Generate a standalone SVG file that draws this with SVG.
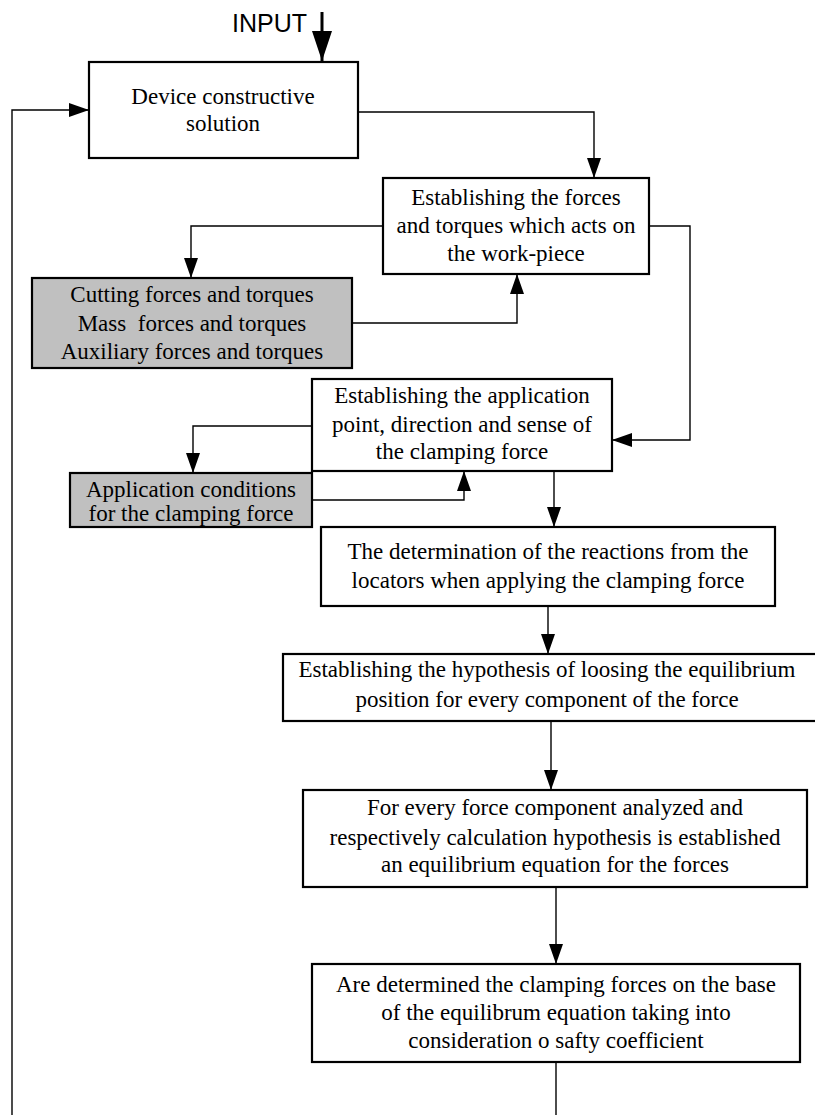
<svg xmlns="http://www.w3.org/2000/svg" width="815" height="1115" viewBox="0 0 815 1115">
<defs>
<marker id="ah" markerUnits="userSpaceOnUse" markerWidth="20" markerHeight="14" refX="20" refY="7" orient="auto"><path d="M0,0 L20,7 L0,14 z" fill="#000"/></marker>
<marker id="big" markerUnits="userSpaceOnUse" markerWidth="30" markerHeight="20" refX="30" refY="10" orient="auto"><path d="M0,0 L30,10 L0,20 z" fill="#000"/></marker>
<style>
.box{fill:#fff;stroke:#000;stroke-width:2.2}
.grey{fill:#c0c0c0;stroke:#000;stroke-width:2.2}
.t{font-family:"Liberation Serif","Times New Roman",serif;font-size:23px;fill:#000;text-anchor:middle}
.c{fill:none;stroke:#000;stroke-width:1.4;marker-end:url(#ah)}
.n{fill:none;stroke:#000;stroke-width:1.4}
</style>
</defs>
<rect width="815" height="1115" fill="#fff"/>
<g id="input">
<text x="232" y="32" font-family="Liberation Sans, Arial, sans-serif" font-size="25">INPUT</text>
<line x1="322" y1="12" x2="322" y2="61" stroke="#000" stroke-width="3" marker-end="url(#big)"/>
</g>
<g id="connectors">
<polyline class="c" points="12,1115 12,110 89,110"/>
<polyline class="c" points="358,112 594,112 594,178"/>
<polyline class="c" points="383,226 191,226 191,278"/>
<polyline class="c" points="352,323 517,323 517,274"/>
<polyline class="c" points="649,226 690,226 690,440 612,440"/>
<polyline class="c" points="312,426 193,426 193,473"/>
<polyline class="c" points="312,500 464,500 464,471"/>
<polyline class="c" points="554,471 554,527"/>
<polyline class="c" points="548,606 548,654"/>
<polyline class="c" points="551,721 551,790"/>
<polyline class="c" points="556,887 556,964"/>
<polyline class="n" points="556,1062 556,1115"/>
</g>
<g id="n1">
<rect class="box" x="89" y="62" width="269" height="96"/>
<text class="t"><tspan x="223" y="104">Device constructive</tspan><tspan x="223" y="131">solution</tspan></text>
</g>
<g id="n2">
<rect class="box" x="383" y="178" width="266" height="96"/>
<text class="t"><tspan x="516" y="205">Establishing the forces</tspan><tspan x="516" y="233">and torques which acts on</tspan><tspan x="516" y="261">the work-piece</tspan></text>
</g>
<g id="n3">
<rect class="grey" x="32" y="278" width="320" height="90"/>
<text class="t" xml:space="preserve"><tspan x="192" y="302">Cutting forces and torques</tspan><tspan x="192" y="331">Mass  forces and torques</tspan><tspan x="192" y="359">Auxiliary forces and torques</tspan></text>
</g>
<g id="n4">
<rect class="box" x="312" y="379" width="300" height="92"/>
<text class="t"><tspan x="462" y="403">Establishing the application</tspan><tspan x="462" y="432">point, direction and sense of</tspan><tspan x="462" y="459">the clamping force</tspan></text>
</g>
<g id="n5">
<rect class="grey" x="70" y="473" width="242" height="54"/>
<text class="t"><tspan x="191" y="497">Application conditions</tspan><tspan x="191" y="521">for the clamping force</tspan></text>
</g>
<g id="n6">
<rect class="box" x="321" y="527" width="454" height="79"/>
<text class="t"><tspan x="548" y="559">The determination of the reactions from the</tspan><tspan x="548" y="588">locators when applying the clamping force</tspan></text>
</g>
<g id="n7">
<rect class="box" x="283" y="654" width="540" height="67"/>
<text class="t"><tspan x="547" y="677">Establishing the hypothesis of loosing the equilibrium</tspan><tspan x="547" y="707">position for every component of the force</tspan></text>
</g>
<g id="n8">
<rect class="box" x="303" y="790" width="504" height="97"/>
<text class="t"><tspan x="555" y="815">For every force component analyzed and</tspan><tspan x="555" y="845">respectively calculation hypothesis is established</tspan><tspan x="555" y="872">an equilibrium equation for the forces</tspan></text>
</g>
<g id="n9">
<rect class="box" x="312" y="964" width="488" height="98"/>
<text class="t"><tspan x="556" y="992">Are determined the clamping forces on the base</tspan><tspan x="556" y="1020">of the equilibrum equation taking into</tspan><tspan x="556" y="1048">consideration o safty coefficient</tspan></text>
</g>
</svg>
